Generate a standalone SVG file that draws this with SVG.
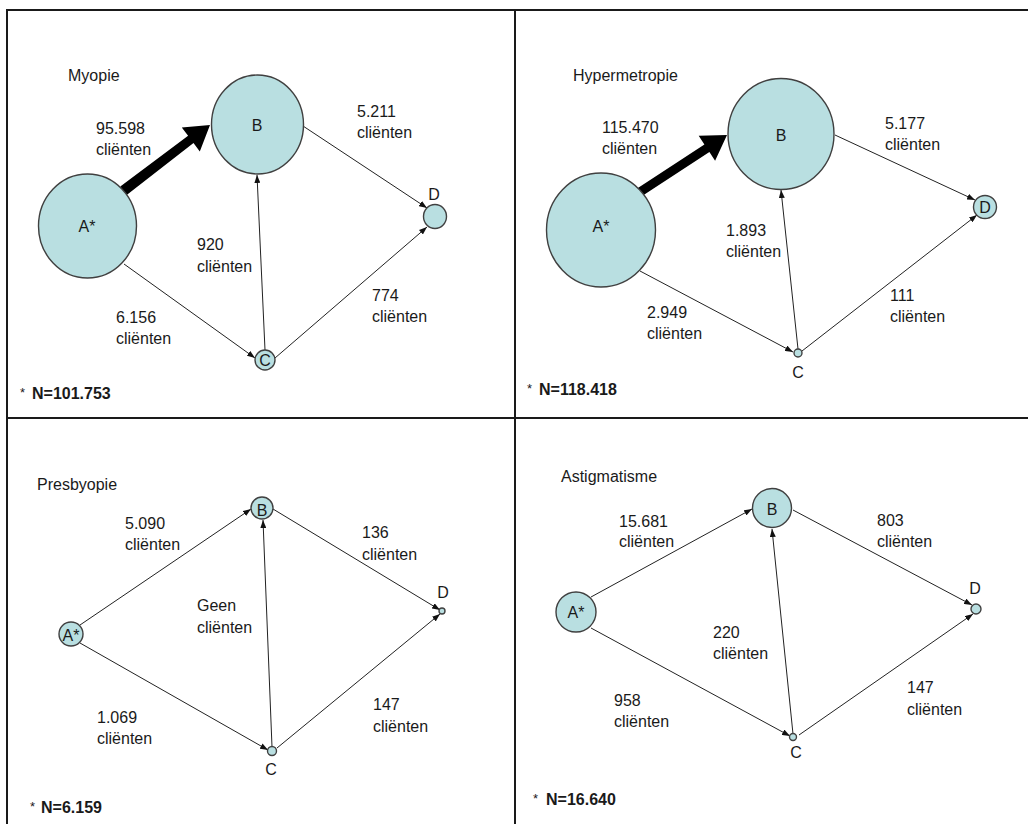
<svg xmlns="http://www.w3.org/2000/svg" width="1028" height="824" viewBox="0 0 1028 824">
<style>
.frame{stroke:#1a1a1a;stroke-width:2;fill:none}
.node{fill:#b9dfe1;stroke:#404040;stroke-width:1.4}
.edge{stroke:#222;stroke-width:1;fill:none;marker-end:url(#ah)}
.thick{fill:#000}
text{font-family:"Liberation Sans",Arial,sans-serif;font-size:16px;fill:#1a1a1a}
.nl{text-anchor:middle}
.star{font-size:13px}
.n{font-weight:bold}
</style>
<defs>
<marker id="ah" markerUnits="userSpaceOnUse" markerWidth="8" markerHeight="6" refX="8" refY="3" orient="auto">
<path d="M0,0 L8,3 L0,6 z" fill="#111"/>
</marker>
</defs>
<rect width="1028" height="824" fill="#fff"/>
<g id="frame" class="frame">
<line x1="7" y1="10" x2="1028" y2="10"/>
<line x1="7" y1="9" x2="7" y2="824"/>
<line x1="515" y1="10" x2="515" y2="824"/>
<line x1="7" y1="418" x2="1028" y2="418"/>
</g>

<!-- Panel 1: Myopie -->
<g id="p1-connectors">
<polygon class="thick" points="120.3,186.4 188.1,135.8 181.8,127.4 210,125 199.8,151.4 193.5,143 126.7,195"/>
<line class="edge" x1="303" y1="126" x2="427" y2="208"/>
<line class="edge" x1="265" y1="350" x2="257" y2="175"/>
<line class="edge" x1="124" y1="264" x2="255" y2="358"/>
<line class="edge" x1="275" y1="358" x2="427" y2="227"/>
</g>
<g id="p1-A"><ellipse class="node" cx="87.5" cy="226" rx="49" ry="52"/><text class="nl" x="87" y="232">A*</text></g>
<g id="p1-B"><ellipse class="node" cx="257.5" cy="124.5" rx="46" ry="49.5"/><text class="nl" x="257" y="131">B</text></g>
<g id="p1-C"><circle class="node" cx="265" cy="360" r="10"/><text class="nl" x="265" y="366">C</text></g>
<g id="p1-D"><ellipse class="node" cx="435" cy="216.5" rx="11.5" ry="12"/><text class="nl" x="434" y="200">D</text></g>
<g id="p1-labels">
<text x="68" y="81">Myopie</text>
<text x="96" y="134">95.598</text><text x="96" y="155">cliënten</text>
<text x="357" y="117">5.211</text><text x="357" y="138">cliënten</text>
<text x="197" y="250">920</text><text x="197" y="272">cliënten</text>
<text x="372" y="301">774</text><text x="372" y="322">cliënten</text>
<text x="116" y="323">6.156</text><text x="116" y="344">cliënten</text>
<text x="20" y="399"><tspan class="star" dy="-2">*</tspan><tspan class="n" x="32" dy="2">N=101.753</tspan></text>
</g>

<!-- Panel 2: Hypermetropie -->
<g id="p2-connectors">
<polygon class="thick" points="637.5,188.2 704.4,144.5 698.7,135.7 727,135 715.1,160.7 709.4,151.9 642.5,195.8"/>
<line class="edge" x1="835" y1="135" x2="975" y2="200"/>
<line class="edge" x1="798" y1="349" x2="781" y2="190"/>
<line class="edge" x1="640" y1="271" x2="793" y2="352"/>
<line class="edge" x1="802" y1="351" x2="977" y2="215"/>
</g>
<g id="p2-A"><ellipse class="node" cx="601" cy="230" rx="54.5" ry="57"/><text class="nl" x="601" y="232">A*</text></g>
<g id="p2-B"><ellipse class="node" cx="781" cy="134" rx="53" ry="55.5"/><text class="nl" x="781" y="141">B</text></g>
<g id="p2-C"><circle class="node" cx="798" cy="353" r="4"/><text class="nl" x="798" y="378">C</text></g>
<g id="p2-D"><circle class="node" cx="985" cy="207" r="11.5"/><text class="nl" x="985" y="213">D</text></g>
<g id="p2-labels">
<text x="573" y="81">Hypermetropie</text>
<text x="602" y="133">115.470</text><text x="602" y="154">cliënten</text>
<text x="885" y="129">5.177</text><text x="885" y="150">cliënten</text>
<text x="726" y="236">1.893</text><text x="726" y="257">cliënten</text>
<text x="890" y="301">111</text><text x="890" y="322">cliënten</text>
<text x="647" y="318">2.949</text><text x="647" y="339">cliënten</text>
<text x="527" y="395"><tspan class="star" dy="-2">*</tspan><tspan class="n" x="539" dy="2">N=118.418</tspan></text>
</g>

<!-- Panel 3: Presbyopie -->
<g id="p3-connectors">
<line class="edge" x1="80" y1="625" x2="251" y2="509"/>
<line class="edge" x1="273" y1="509" x2="440" y2="610"/>
<line class="edge" x1="272" y1="747" x2="263" y2="520"/>
<line class="edge" x1="80" y1="643" x2="268" y2="750"/>
<line class="edge" x1="277" y1="748" x2="440" y2="614"/>
</g>
<g id="p3-A"><circle class="node" cx="71" cy="634" r="12"/><text class="nl" x="71" y="641">A*</text></g>
<g id="p3-B"><circle class="node" cx="262" cy="508" r="11"/><text class="nl" x="262" y="516">B</text></g>
<g id="p3-C"><circle class="node" cx="272" cy="751" r="4.5"/><text class="nl" x="271" y="775">C</text></g>
<g id="p3-D"><circle class="node" cx="442" cy="611" r="3"/><text class="nl" x="443" y="598">D</text></g>
<g id="p3-labels">
<text x="37" y="490">Presbyopie</text>
<text x="125" y="529">5.090</text><text x="125" y="550">cliënten</text>
<text x="362" y="538">136</text><text x="362" y="560">cliënten</text>
<text x="197" y="611">Geen</text><text x="197" y="633">cliënten</text>
<text x="373" y="710">147</text><text x="373" y="732">cliënten</text>
<text x="97" y="723">1.069</text><text x="97" y="744">cliënten</text>
<text x="30" y="813"><tspan class="star" dy="-2">*</tspan><tspan class="n" x="41" dy="2">N=6.159</tspan></text>
</g>

<!-- Panel 4: Astigmatisme -->
<g id="p4-connectors">
<line class="edge" x1="591" y1="597" x2="752" y2="509"/>
<line class="edge" x1="793" y1="510" x2="972" y2="605"/>
<line class="edge" x1="793" y1="734" x2="772" y2="529"/>
<line class="edge" x1="591" y1="628" x2="790" y2="736"/>
<line class="edge" x1="799" y1="735" x2="973" y2="614"/>
</g>
<g id="p4-A"><circle class="node" cx="576" cy="612" r="20"/><text class="nl" x="576" y="618">A*</text></g>
<g id="p4-B"><circle class="node" cx="772" cy="508" r="19.5"/><text class="nl" x="772" y="515">B</text></g>
<g id="p4-C"><circle class="node" cx="793" cy="737" r="3.5"/><text class="nl" x="796" y="758">C</text></g>
<g id="p4-D"><circle class="node" cx="976" cy="609" r="5"/><text class="nl" x="975" y="594">D</text></g>
<g id="p4-labels">
<text x="561" y="482">Astigmatisme</text>
<text x="619" y="527">15.681</text><text x="619" y="547">cliënten</text>
<text x="877" y="526">803</text><text x="877" y="547">cliënten</text>
<text x="713" y="638">220</text><text x="713" y="659">cliënten</text>
<text x="907" y="693">147</text><text x="907" y="715">cliënten</text>
<text x="614" y="706">958</text><text x="614" y="727">cliënten</text>
<text x="533" y="805"><tspan class="star" dy="-2">*</tspan><tspan class="n" x="546" dy="2">N=16.640</tspan></text>
</g>
</svg>
